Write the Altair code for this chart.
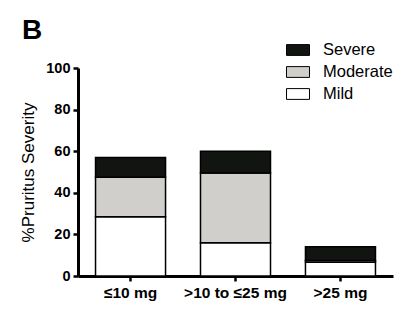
import altair as alt
import pandas as pd

categories = ["≤10 mg", ">10 to ≤25 mg", ">25 mg"]
severities = ["Severe", "Moderate", "Mild"]
mild = [28.5, 16.0, 6.6]
moderate = [19.0, 33.5, 0.8]
severe = [9.5, 10.5, 6.7]
colors = ["#111411", "#d0cfcc", "#ffffff"]

rows = []
for i, c in enumerate(categories):
    rows.append({"dose": c, "sev": "Mild", "val": mild[i], "ord": 0})
    rows.append({"dose": c, "sev": "Moderate", "val": moderate[i], "ord": 1})
    rows.append({"dose": c, "sev": "Severe", "val": severe[i], "ord": 2})
df = pd.DataFrame(rows)

font = "Liberation Sans"

bars = alt.Chart(df).mark_bar(stroke="black", strokeWidth=1.5).encode(
    x=alt.X("dose:N", sort=categories,
            scale=alt.Scale(paddingInner=0.333, paddingOuter=0.167),
            axis=alt.Axis(title=None, labelAngle=0, labelFont=font, labelFontSize=15.5,
                          labelFontWeight="bold", labelColor="black", labelPadding=4,
                          domainColor="black", domainWidth=3, tickColor="black",
                          tickWidth=2.5, tickSize=5)),
    y=alt.Y("val:Q", stack="zero", scale=alt.Scale(domain=[0, 100], nice=False),
            axis=alt.Axis(title="%Pruritus Severity", values=[0, 20, 40, 60, 80, 100],
                          titleFont=font, titleFontSize=17, titleFontWeight="normal",
                          titleColor="black", titlePadding=8,
                          labelFont=font, labelFontSize=14.5, labelFontWeight="bold",
                          labelColor="black", labelPadding=3, grid=False,
                          domainColor="black", domainWidth=3, tickColor="black",
                          tickWidth=2.5, tickSize=5)),
    color=alt.Color("sev:N", sort=severities,
                    scale=alt.Scale(domain=severities, range=colors),
                    legend=alt.Legend(title=None, orient="none", legendX=208, legendY=-30,
                                      symbolType="M-1,-0.47L1,-0.47L1,0.47L-1,0.47Z",
                                      symbolSize=529, symbolStrokeColor="black",
                                      symbolStrokeWidth=1, symbolOpacity=1,
                                      labelFont=font, labelFontSize=16.5, labelColor="black",
                                      labelOffset=13, rowPadding=1, padding=0)),
    order=alt.Order("ord:Q"),
)

label = alt.Chart(alt.Data(values=[{"t": "B"}])).mark_text(
    font=font, fontSize=28, fontWeight="bold", align="left", baseline="alphabetic", color="black"
).encode(x=alt.value(-56), y=alt.value(-29), text="t:N")

chart = alt.layer(bars, label).properties(
    width=315, height=208,
    autosize=alt.AutoSizeParams(type="none"),
    padding={"left": 78, "top": 68, "right": 21, "bottom": 46},
    background="white",
).configure_view(stroke=None)

chart.save("out.html", embed_options={"renderer": "svg", "actions": False})
